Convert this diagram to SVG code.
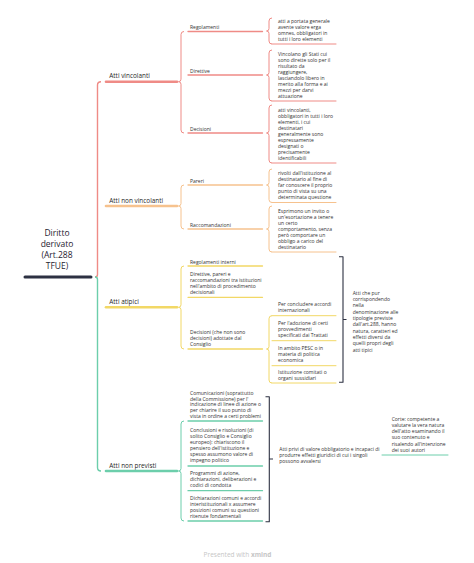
<svg xmlns="http://www.w3.org/2000/svg" width="474" height="563" viewBox="0 0 474 563">
<style>
text{font-family:"Open Sans","Liberation Sans",sans-serif;fill:#333}
.root{font-size:8.5px;fill:#1f2230;text-anchor:middle}
.l2{font-size:6.4px;fill:#1f1f1f}
.s{font-size:5px}
.u{fill:none;stroke-linecap:round}
.r{stroke:#EF8B86}
.o{stroke:#F6C28E}
.y{stroke:#F2D866}
.g{stroke:#6CCEAB}
.k{stroke:#2D3142}
.w3{stroke-width:2.6}
.w2{stroke-width:1.3}
.w1{stroke-width:1}
.br{fill:none;stroke-width:1;stroke-linejoin:round}
.foot{font-size:6.5px;fill:#c6c6c6;text-anchor:middle}
</style>
<rect width="474" height="563" fill="#fff"/>

<g id="connectors">
  <!-- main brace -->
  <path class="br r" style="stroke-width:1.4" d="M101,81.7 Q97.5,81.7 97.5,85 L97.5,274.5 Q97.5,277 95,277"/>
  <path class="br g" style="stroke-width:1.4" d="M95,277 Q97.5,277 97.5,279.5 L97.5,467.5 Q97.5,471 101,471"/>
  <!-- red group brace -->
  <path class="br r" d="M184,31.5 Q181,31.5 181,34.5 L181,79.2 Q181,81.7 178.5,81.7 Q181,81.7 181,84.2 L181,130 Q181,133 184,133"/>
  <!-- orange group brace -->
  <path class="br o" d="M184,185 Q181,185 181,188 L181,203.5 Q181,206 178.5,206 Q181,206 181,208.5 L181,226 Q181,229 184,229"/>
  <!-- yellow group brace -->
  <path class="br y" d="M184,266 Q181,266 181,269 L181,304.8 Q181,307.3 178.5,307.3 Q181,307.3 181,309.8 L181,346 Q181,349 184,349"/>
  <!-- green group brace -->
  <path class="br g" d="M184,421 Q181,421 181,424 L181,468.5 Q181,471 178.5,471 Q181,471 181,473.5 L181,518 Q181,521 184,521"/>
  <!-- red sub braces -->
  <path class="br r" d="M272,18 Q269,18 269,21 L269,28.5 Q269,31 266.5,31 Q269,31 269,33.5 L269,41 Q269,44 272,44"/>
  <path class="br r" d="M272,50 Q269,50 269,53 L269,72.5 Q269,75 266.5,75 Q269,75 269,77.5 L269,98 Q269,101 272,101"/>
  <path class="br r" d="M272,105 Q269,105 269,108 L269,130.5 Q269,133 266.5,133 Q269,133 269,135.5 L269,160 Q269,163 272,163"/>
  <!-- orange sub braces -->
  <path class="br o" d="M272,169 Q269,169 269,172 L269,182.5 Q269,185 266.5,185 Q269,185 269,187.5 L269,199.5 Q269,202.5 272,202.5"/>
  <path class="br o" d="M272,206 Q269,206 269,209 L269,226.5 Q269,229 266.5,229 Q269,229 269,231.5 L269,249 Q269,252 272,252"/>
  <!-- yellow sub brace -->
  <path class="br y" d="M272,315.7 Q269,315.7 269,318.7 L269,346.5 Q269,349 266.5,349 Q269,349 269,351.5 L269,380 Q269,383 272,383"/>
  <!-- summary brackets -->
  <path class="br k" style="stroke-width:1.1" d="M339,256.7 L343,256.7 L343,382.3 L339,382.3 M343,319.5 L346.5,319.5"/>
  <path class="br k" style="stroke-width:1.1" d="M265.5,396.7 L269.3,396.7 L269.3,521.7 L265.5,521.7 M269.3,459 L273,459"/>
</g>

<g id="root">
  <text class="root" x="57" y="236.3">Diritto</text>
  <text class="root" x="57" y="247.3">derivato</text>
  <text class="root" x="57" y="258.2">(Art.288</text>
  <text class="root" x="57" y="269.2">TFUE)</text>
  <line class="u k" x1="25" y1="277" x2="91" y2="277" style="stroke-width:3"/>
</g>

<g id="atti-vincolanti">
  <text class="l2" x="109.3" y="78.3">Atti vincolanti</text>
  <line class="u r w3" x1="106" y1="81.7" x2="177" y2="81.7"/>
</g>
<g id="regolamenti">
  <text class="s" x="190" y="29">Regolamenti</text>
  <line class="u r w2" x1="188" y1="31.5" x2="262.5" y2="31.5"/>
</g>
<g id="regolamenti-def">
  <text class="s" x="278"><tspan x="278" y="22.5">atti a portata generale</tspan><tspan x="278" y="28.5">avente valore erga</tspan><tspan x="278" y="34.5">omnes, obbligatori in</tspan><tspan x="278" y="40.5">tutti i loro elementi</tspan></text>
  <line class="u r w1" x1="272" y1="44" x2="336" y2="44"/>
</g>
<g id="direttive">
  <text class="s" x="190" y="72.5">Direttive</text>
  <line class="u r w2" x1="188" y1="75" x2="262.5" y2="75"/>
</g>
<g id="direttive-def">
  <text class="s"><tspan x="278" y="55.5">Vincolano gli Stati cui</tspan><tspan x="278" y="61.5">sono dirette solo per il</tspan><tspan x="278" y="67.5">risultato da</tspan><tspan x="278" y="73.5">raggiungere,</tspan><tspan x="278" y="79.5">lasciandolo libero in</tspan><tspan x="278" y="85.5">merito alla forma e ai</tspan><tspan x="278" y="91.5">mezzi per darvi</tspan><tspan x="278" y="97.5">attuazione</tspan></text>
  <line class="u r w1" x1="272" y1="101" x2="336" y2="101"/>
</g>
<g id="decisioni">
  <text class="s" x="190" y="130.5">Decisioni</text>
  <line class="u r w2" x1="188" y1="133" x2="262.5" y2="133"/>
</g>
<g id="decisioni-def">
  <text class="s"><tspan x="278" y="111.5">atti vincolanti,</tspan><tspan x="278" y="117.5">obbligatori in tutti i loro</tspan><tspan x="278" y="123.5">elementi, i cui</tspan><tspan x="278" y="129.5">destinatari</tspan><tspan x="278" y="135.5">generalmente sono</tspan><tspan x="278" y="141.5">espressamente</tspan><tspan x="278" y="147.5">designati o</tspan><tspan x="278" y="153.5">precisamente</tspan><tspan x="278" y="159.5">identificabili</tspan></text>
  <line class="u r w1" x1="272" y1="163" x2="336" y2="163"/>
</g>

<g id="atti-non-vincolanti">
  <text class="l2" x="109.3" y="202.6">Atti non vincolanti</text>
  <line class="u o w3" x1="106" y1="206" x2="177" y2="206"/>
</g>
<g id="pareri">
  <text class="s" x="190" y="182.5">Pareri</text>
  <line class="u o w2" x1="188" y1="185" x2="262.5" y2="185"/>
</g>
<g id="pareri-def">
  <text class="s"><tspan x="278" y="175">rivolti dall'istituzione al</tspan><tspan x="278" y="181">destinatario al fine di</tspan><tspan x="278" y="187">far conoscere il proprio</tspan><tspan x="278" y="193">punto di vista su una</tspan><tspan x="278" y="199">determinata questione</tspan></text>
  <line class="u o w1" x1="272" y1="202.5" x2="336" y2="202.5"/>
</g>
<g id="raccomandazioni">
  <text class="s" x="190" y="226.5">Raccomandazioni</text>
  <line class="u o w2" x1="188" y1="229" x2="262.5" y2="229"/>
</g>
<g id="raccomandazioni-def">
  <text class="s"><tspan x="278" y="212.5">Esprimono un invito o</tspan><tspan x="278" y="218.5">un'esortazione a tenere</tspan><tspan x="278" y="224.5">un certo</tspan><tspan x="278" y="230.5">comportamento, senza</tspan><tspan x="278" y="236.5">però comportare un</tspan><tspan x="278" y="242.5">obbligo a carico del</tspan><tspan x="278" y="248.5">destinatario</tspan></text>
  <line class="u o w1" x1="272" y1="252" x2="336" y2="252"/>
</g>

<g id="atti-atipici">
  <text class="l2" x="109.3" y="303.9">Atti atipici</text>
  <line class="u y w3" x1="106" y1="307.3" x2="177" y2="307.3"/>
</g>
<g id="regolamenti-interni">
  <text class="s" x="190" y="263.5">Regolamenti interni</text>
  <line class="u y w2" x1="188" y1="266" x2="262.5" y2="266"/>
</g>
<g id="direttive-pareri">
  <text class="s"><tspan x="190" y="276">Direttive, pareri e</tspan><tspan x="190" y="282">raccomandazioni tra istituzioni</tspan><tspan x="190" y="288">nell'ambito di procedimento</tspan><tspan x="190" y="294">decisionali</tspan></text>
  <line class="u y w2" x1="188" y1="297.3" x2="262.5" y2="297.3"/>
</g>
<g id="decisioni-consiglio">
  <text class="s"><tspan x="190" y="333.5">Decisioni (che non sono</tspan><tspan x="190" y="339.5">decisioni) adottate dal</tspan><tspan x="190" y="345.5">Consiglio</tspan></text>
  <line class="u y w2" x1="188" y1="349" x2="262.5" y2="349"/>
</g>
<g id="accordi">
  <text class="s"><tspan x="278" y="306">Per concludere accordi</tspan><tspan x="278" y="312">internazionali</tspan></text>
  <line class="u y w1" x1="272" y1="315.7" x2="336" y2="315.7"/>
</g>
<g id="provvedimenti">
  <text class="s"><tspan x="278" y="324.5">Per l'adozione di certi</tspan><tspan x="278" y="330.5">provvedimenti</tspan><tspan x="278" y="336.5">specificati dai Trattati</tspan></text>
  <line class="u y w1" x1="272" y1="340.7" x2="336" y2="340.7"/>
</g>
<g id="pesc">
  <text class="s"><tspan x="278" y="349.5">In ambito PESC o in</tspan><tspan x="278" y="355.5">materia di politica</tspan><tspan x="278" y="361.5">economica</tspan></text>
  <line class="u y w1" x1="272" y1="365.7" x2="336" y2="365.7"/>
</g>
<g id="comitati">
  <text class="s"><tspan x="278" y="373.5">Istituzione comitati o</tspan><tspan x="278" y="379.5">organi sussidiari</tspan></text>
  <line class="u y w1" x1="272" y1="383" x2="336" y2="383"/>
</g>
<g id="summary-atipici">
  <text class="s"><tspan x="352.7" y="294.5">Atti che pur</tspan><tspan x="352.7" y="300.9">corrispondendo</tspan><tspan x="352.7" y="307.2">nella</tspan><tspan x="352.7" y="313.6">denominazione alle</tspan><tspan x="352.7" y="319.9">tipologie previste</tspan><tspan x="352.7" y="326.3">dall'art.288, hanno</tspan><tspan x="352.7" y="332.6">natura, caratteri ed</tspan><tspan x="352.7" y="339">effetti diversi da</tspan><tspan x="352.7" y="345.3">quelli propri degli</tspan><tspan x="352.7" y="351.7">atti tipici</tspan></text>
</g>

<g id="atti-non-previsti">
  <text class="l2" x="109.3" y="467.6">Atti non previsti</text>
  <line class="u g w3" x1="106" y1="471" x2="177" y2="471"/>
</g>
<g id="comunicazioni">
  <text class="s"><tspan x="190" y="395">Comunicazioni (soprattutto</tspan><tspan x="190" y="400.7">della Commissione) per l'</tspan><tspan x="190" y="406.4">indicazione di linee di azione o</tspan><tspan x="190" y="412.1">per chiarire il suo punto di</tspan><tspan x="190" y="417.8">vista in ordine a certi problemi</tspan></text>
  <line class="u g w2" x1="188" y1="421" x2="262.5" y2="421"/>
</g>
<g id="conclusioni">
  <text class="s"><tspan x="190" y="432">Conclusioni e risoluzioni (di</tspan><tspan x="190" y="438">solito Consiglio e Consiglio</tspan><tspan x="190" y="444">europeo): chiariscono il</tspan><tspan x="190" y="450">pensiero dell'istituzione e</tspan><tspan x="190" y="456">spesso assumono valore di</tspan><tspan x="190" y="462">impegno politico</tspan></text>
  <line class="u g w2" x1="188" y1="466" x2="262.5" y2="466"/>
</g>
<g id="programmi">
  <text class="s"><tspan x="190" y="475">Programmi di azione,</tspan><tspan x="190" y="481">dichiarazioni, deliberazioni e</tspan><tspan x="190" y="487">codici di condotta</tspan></text>
  <line class="u g w2" x1="188" y1="490.7" x2="262.5" y2="490.7"/>
</g>
<g id="dichiarazioni">
  <text class="s"><tspan x="190" y="500">Dichiarazioni comuni e accordi</tspan><tspan x="190" y="506">interistituzionali x assumere</tspan><tspan x="190" y="512">posizioni comuni su questioni</tspan><tspan x="190" y="518">ritenute fondamentali</tspan></text>
  <line class="u g w2" x1="188" y1="521" x2="262.5" y2="521"/>
</g>
<g id="summary-non-previsti">
  <text class="s"><tspan x="279.3" y="450.7">Atti privi di valore obbligatorio e incapaci di</tspan><tspan x="279.3" y="456.7">produrre effetti giuridici di cui i singoli</tspan><tspan x="279.3" y="462.7">possono avvalersi</tspan></text>
</g>
<g id="corte">
  <text class="s"><tspan x="391.7" y="420.7">Corte: competente a</tspan><tspan x="391.7" y="426.9">valutare la vera natura</tspan><tspan x="391.7" y="433.1">dell'atto esaminando il</tspan><tspan x="391.7" y="439.3">suo contenuto e</tspan><tspan x="391.7" y="445.5">risalendo all'intenzione</tspan><tspan x="391.7" y="451.7">dei suoi autori</tspan></text>
  <line class="u g w1" x1="382" y1="455" x2="448" y2="455"/>
</g>

<text class="foot" x="237.5" y="556.5">Presented with <tspan style="font-weight:700">xmind</tspan></text>
</svg>
